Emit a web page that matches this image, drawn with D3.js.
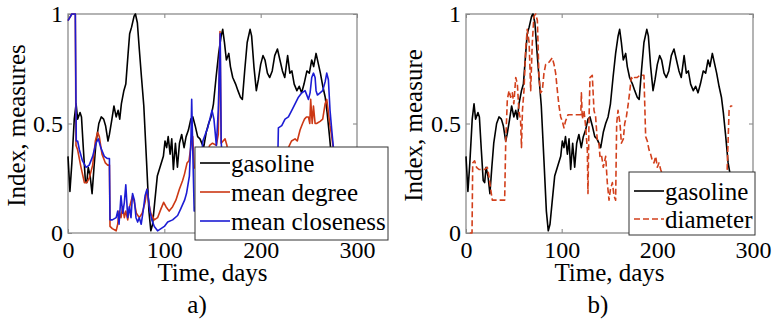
<!DOCTYPE html>
<html>
<head>
<meta charset="utf-8">
<script src="https://cdn.jsdelivr.net/npm/d3@7"></script>
<style>
  body { margin: 0; background: #fff; }
  svg { display: block; }
  svg text { font-family: "Liberation Serif", "Times New Roman", Tinos, "DejaVu Serif", serif; fill: #000; }
</style>
</head>
<body>
<svg width="772" height="321"></svg>
<script>
// [day, value] pairs
const gasoline = [[0,0.35],[2,0.19],[4,0.32],[6.5,0.52],[8.4,0.59],[10,0.52],[12.5,0.55],[14,0.53],[16,0.38],[18,0.24],
  [19.5,0.23],[21,0.30],[23,0.26],[25,0.18],[27,0.30],[29,0.41],[32,0.50],[34.5,0.53],[37,0.52],[39,0.49],
  [41.5,0.42],[43,0.45],[45.6,0.52],[47.7,0.58],[50,0.53],[52,0.56],[53.7,0.52],[55.4,0.59],[58,0.65],[60,0.68],
  [62.4,0.82],[64,0.91],[66,0.94],[68.6,0.99],[70,1.0],[72,0.96],[74,0.84],[76.3,0.71],[78.7,0.58],[81.5,0.33],
  [84,0.10],[86,0.01],[87.8,0.04],[90,0.14],[92.7,0.26],[95.5,0.30],[99,0.35],[100.7,0.42],[102.4,0.39],[104,0.44],
  [106,0.36],[107.7,0.43],[109.4,0.29],[111.5,0.41],[113.6,0.30],[115.7,0.41],[118,0.45],[120.5,0.39],[122.6,0.44],[125,0.47],
  [127.5,0.52],[129.6,0.53],[132,0.49],[134.6,0.44],[137,0.43],[140.8,0.39],[143.5,0.46],[146,0.50],[148.5,0.53],[151,0.59],
  [153.7,0.71],[156.4,0.82],[159,0.90],[160.6,0.93],[162.4,0.87],[164.4,0.79],[166.9,0.82],[168.6,0.76],[171,0.71],[174,0.68],
  [176.4,0.65],[179,0.62],[181,0.61],[183.4,0.74],[186,0.87],[189,0.93],[190.6,0.90],[193,0.76],[195.5,0.65],[197.6,0.70],
  [200,0.77],[202.4,0.81],[204.5,0.79],[207,0.73],[209.4,0.71],[212,0.74],[214.6,0.81],[217.4,0.84],[220,0.79],[222.6,0.74],
  [225,0.71],[228,0.81],[230.3,0.73],[232.4,0.74],[234.8,0.68],[237.6,0.65],[240,0.67],[242.5,0.64],[245,0.68],[248,0.74],
  [250.5,0.73],[253,0.79],[255,0.76],[257.5,0.82],[260,0.77],[262,0.73],[264.5,0.67],[267,0.62],[269,0.55],[271.5,0.44],
  [274,0.32],[276,0.27],[278,0.20]];

const meanDegree = [[0,0.97],[4,1.0],[7.6,1.0],[8.3,0.40],[10,0.38],[13.5,0.30],[17,0.23],[19.4,0.23],[22,0.25],[25.6,0.31],
  [28.4,0.42],[30.8,0.46],[32.5,0.44],[35.3,0.36],[38.8,0.32],[41.2,0.31],[43,0.31],[43.6,0.03],[46,0.02],[50,0.01],
  [51.6,0.04],[53,0.10],[55,0.07],[56.8,0.12],[58.5,0.07],[60,0.10],[62,0.06],[64,0.12],[67,0.17],[68.9,0.14],
  [71,0.09],[74,0.07],[77,0.09],[80,0.14],[82,0.20],[83.7,0.14],[86,0.09],[89.6,0.06],[93,0.07],[96.5,0.11],
  [99.3,0.14],[101.7,0.12],[105,0.10],[108.6,0.12],[112,0.15],[115.6,0.20],[119,0.24],[121,0.27],[123.6,0.32],[125.6,0.33],
  [128,0.41],[129.5,0.44],[131,0.30],[136,0.28],[142,0.33],[147,0.40],[150,0.41],[154,0.40],[156,0.45],[157.8,0.92],
  [159,0.41],[163,0.43],[165,0.40],[168,0.25],[180,0.15],[200,0.12],[215,0.20],[228.8,0.39],[232,0.42],[235.7,0.43],
  [238,0.42],[240.9,0.47],[243.5,0.50],[245.5,0.52],[247.5,0.53],[249.6,0.53],[251,0.50],[251.9,0.61],[253.5,0.50],[254.8,0.58],
  [256.5,0.50],[258,0.50],[261.7,0.51],[264.4,0.52],[266.9,0.59],[268.6,0.61],[270.3,0.55],[272,0.49],[273.8,0.44],[275.5,0.38],
  [278,0.25]];

const meanCloseness = [[0,0.97],[4,1.0],[7.6,1.0],[8.6,0.42],[10,0.42],[11.8,0.38],[15,0.33],[18.7,0.30],[22,0.31],[25.6,0.35],
  [29,0.41],[31.5,0.43],[34,0.39],[37.7,0.35],[41,0.34],[43,0.34],[43.6,0.06],[46,0.06],[50,0.07],[51.6,0.10],
  [53,0.04],[55,0.17],[56.8,0.09],[58.5,0.14],[60,0.22],[62,0.07],[63.7,0.12],[65.4,0.07],[67,0.18],[68.9,0.15],
  [70.6,0.07],[72.3,0.05],[74,0.07],[76,0.04],[78,0.10],[80,0.17],[82,0.20],[83.7,0.15],[85,0.10],[87,0.06],
  [89.6,0.03],[93,0.01],[96.5,0.02],[100,0.03],[103.5,0.05],[108.6,0.06],[113.8,0.08],[117,0.11],[121,0.15],[123,0.18],
  [126,0.26],[127.7,0.44],[128.4,0.61],[129.5,0.38],[131,0.10],[135,0.15],[140,0.42],[145,0.48],[149.5,0.56],[151.5,0.52],
  [154,0.40],[156,0.56],[158,0.91],[159,0.42],[161,0.25],[170,0.10],[190,0.05],[210,0.15],[218,0.39],[218.4,0.48],
  [221.9,0.49],[225.3,0.52],[228.8,0.53],[232.3,0.56],[235.7,0.59],[239.2,0.62],[242.7,0.64],[246.1,0.65],[249.6,0.61],[251.3,0.64],
  [253,0.71],[254.8,0.73],[256.5,0.71],[257.5,0.65],[258.9,0.63],[261.7,0.64],[264.4,0.65],[266.9,0.69],[268.6,0.73],[270.3,0.70],
  [272,0.56],[273.8,0.47],[275.5,0.39],[278,0.25]];

const diameter = [[4,0],[6.3,0],[7,0.32],[9,0.33],[11,0.30],[13.6,0.29],[17,0.29],[19.5,0.29],[22.3,0.30],[24,0.26],
  [25.8,0.20],[27.5,0.15],[31,0.15],[36,0.15],[40.4,0.15],[41.5,0.41],[43.2,0.61],[45,0.65],[46.7,0.62],[48.4,0.64],
  [50,0.59],[52,0.71],[53.7,0.68],[55.4,0.55],[57,0.52],[58,0.39],[59,0.56],[60.6,0.65],[62.4,0.84],[64,0.93],
  [66,0.87],[67.6,0.65],[69.3,0.87],[71,0.99],[72.8,1.0],[74.6,0.97],[76.3,0.71],[78,0.64],[79.8,0.65],[81.5,0.73],
  [83.3,0.77],[86.8,0.78],[90.2,0.80],[92,0.77],[93.7,0.73],[95.5,0.65],[97.2,0.58],[99,0.53],[100.7,0.51],[102.4,0.48],
  [104,0.51],[106.6,0.54],[111,0.54],[116,0.54],[120,0.54],[120.6,0.64],[121.6,0.52],[123.3,0.56],[125,0.49],[126.8,0.38],
  [127.5,0.18],[128.6,0.52],[129.6,0.71],[132,0.72],[133.8,0.56],[135.5,0.53],[137.3,0.42],[139,0.41],[140,0.35],[141.5,0.36],
  [143.5,0.30],[146,0.35],[147.7,0.23],[149.5,0.15],[151,0.20],[153,0.23],[154.7,0.17],[156.4,0.15],[157.5,0.50],[158.9,0.56],
  [161,0.50],[162.4,0.41],[164.5,0.43],[165.9,0.50],[167.6,0.53],[169.3,0.58],[171,0.64],[172.8,0.71],[174.5,0.70],[176.3,0.71],
  [179,0.71],[181.6,0.72],[184.3,0.72],[186,0.72],[187.8,0.44],[189.5,0.42],[191.3,0.38],[193,0.36],[194.8,0.33],[196.5,0.32],
  [198.3,0.35],[200,0.30],[201.7,0.32],[203.5,0.29],[205,0.27],[210,0.22],[230,0.20],[250,0.20],[272,0.20],[273,0.29],
  [275,0.56],[276.7,0.58],[278.4,0.58]];

const xTicks = [0, 100, 200, 300];
const yTicks = [0, 0.5, 1];

const colors = { gasoline: "#000000", degree: "#cc3814", closeness: "#1c1cd4", diameter: "#d2401c" };
const serif = '"Liberation Serif", "Times New Roman", Tinos, "DejaVu Serif", serif';

const svg = d3.select("svg");
const frameTop = 14, frameBottom = 233;
const y = d3.scaleLinear().domain([0, 1]).range([frameBottom, frameTop]);

function panel(left, right, yLabel, caption, captionX) {
  const x = d3.scaleLinear().domain([0, 300]).range([left, right]);
  const g = svg.append("g");

  // axes (ticks point inward, like matlab)
  g.append("g").attr("transform", `translate(0,${frameBottom})`)
    .call(d3.axisBottom(x).tickValues(xTicks).tickSizeInner(-4).tickSizeOuter(0).tickPadding(8).tickFormat(d3.format("d")));
  g.append("g").attr("transform", `translate(0,${frameTop})`)
    .call(d3.axisTop(x).tickValues(xTicks).tickSizeInner(-4).tickSizeOuter(0).tickFormat(""));
  g.append("g").attr("transform", `translate(${left},0)`)
    .call(d3.axisLeft(y).tickValues(yTicks).tickSizeInner(-4).tickSizeOuter(0).tickPadding(5).tickFormat(d => d === 0.5 ? "0.5" : d));
  g.append("g").attr("transform", `translate(${right},0)`)
    .call(d3.axisRight(y).tickValues(yTicks).tickSizeInner(-4).tickSizeOuter(0).tickFormat(""));
  g.selectAll(".domain").remove();
  g.selectAll("g").attr("font-family", serif);
  g.selectAll(".tick line").attr("stroke", "#808080");
  g.selectAll(".tick text").attr("font-family", serif).attr("font-size", 24);

  g.append("rect")
    .attr("x", left).attr("y", frameTop)
    .attr("width", right - left).attr("height", frameBottom - frameTop)
    .attr("fill", "none").attr("stroke", "#8c8c8c").attr("stroke-width", 1.3);

  g.append("text")
    .attr("transform", `translate(${yLabel.x},${(frameTop + frameBottom) / 2 + 2}) rotate(-90)`)
    .attr("text-anchor", "middle").attr("dominant-baseline", "central")
    .attr("font-family", serif).attr("font-size", 25).text(yLabel.text);

  g.append("text").attr("x", (left + right) / 2).attr("y", 281)
    .attr("text-anchor", "middle").attr("font-family", serif).attr("font-size", 25).text("Time, days");

  g.append("text").attr("x", captionX).attr("y", 313)
    .attr("text-anchor", "middle").attr("font-family", serif).attr("font-size", 25).text(caption);

  return { x, g };
}

function drawLine(p, data, color, dash) {
  const line = d3.line().x(d => p.x(d[0])).y(d => y(d[1]));
  p.g.append("path")
    .datum(data)
    .attr("d", line)
    .attr("fill", "none")
    .attr("stroke", color)
    .attr("stroke-width", 1.6)
    .attr("stroke-linejoin", "round")
    .attr("stroke-dasharray", dash || null);
}

function legend(g, box, rows) {
  g.append("rect")
    .attr("x", box.x).attr("y", box.y).attr("width", box.w).attr("height", box.h)
    .attr("fill", "#fff").attr("stroke", "#333").attr("stroke-width", 1);
  rows.forEach((r, i) => {
    const ly = box.y + box.first + i * box.step;
    g.append("line")
      .attr("x1", box.x + 5).attr("x2", box.x + 35).attr("y1", ly).attr("y2", ly)
      .attr("stroke", r.color).attr("stroke-width", 1.6)
      .attr("stroke-dasharray", r.dash || null);
    g.append("text").attr("x", box.x + 36).attr("y", ly + 9)
      .attr("font-family", serif).attr("font-size", 25).text(r.label);
  });
}

// panel a
const pa = panel(68, 357, { x: 16, text: "Index, measures" }, "a)", 197);
drawLine(pa, gasoline, colors.gasoline);
drawLine(pa, meanDegree, colors.degree);
drawLine(pa, meanCloseness, colors.closeness);
legend(pa.g, { x: 195, y: 147, w: 193, h: 93, first: 16, step: 29 }, [
  { label: "gasoline", color: colors.gasoline },
  { label: "mean degree", color: colors.degree },
  { label: "mean closeness", color: colors.closeness }
]);

// panel b
const pb = panel(466, 753, { x: 413, text: "Index, measure" }, "b)", 598);
drawLine(pb, gasoline, colors.gasoline);
drawLine(pb, diameter, colors.diameter, "6,3");
legend(pb.g, { x: 629, y: 172, w: 126, h: 63, first: 19, step: 28 }, [
  { label: "gasoline", color: colors.gasoline },
  { label: "diameter", color: colors.diameter, dash: "6,3" }
]);
</script>
</body>
</html>
